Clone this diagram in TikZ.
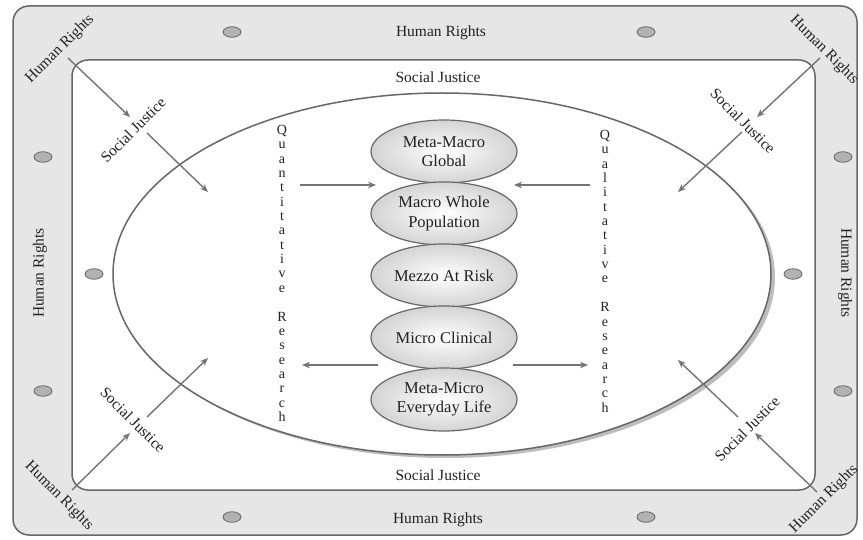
\documentclass[tikz,border=0pt]{standalone}
\usepackage{fontspec}
\setmainfont{Liberation Serif}
\usetikzlibrary{arrows.meta,shapes.geometric}
\definecolor{band}{HTML}{E6E6E7}
\definecolor{linec}{HTML}{676767}
\definecolor{arrc}{HTML}{747474}
\definecolor{dotc}{HTML}{B2B2B2}
\definecolor{txt}{HTML}{222222}
\begin{document}
\begin{tikzpicture}[x=1pt,y=-1pt,
  lbl/.style={font=\fontsize{15.5}{17}\selectfont, text=txt, inner sep=0pt},
  col/.style={font=\fontsize{14}{14.35}\selectfont, text=txt, inner sep=0pt, align=center, anchor=north},
  arr/.style={draw=arrc, line width=1.4pt, -{Stealth[length=8pt,width=6.5pt]}},
  dotm/.style={ellipse, draw=linec, fill=dotc, minimum width=18pt, minimum height=10.5pt, inner sep=0pt, line width=0.8pt},
  lvl/.style={ellipse, draw=linec, line width=1.2pt, inner color=white, outer color=black!17,
    minimum width=146pt, minimum height=63pt, align=center, font=\fontsize{16.5}{19.5}\selectfont, text=txt, inner sep=0pt}]
\useasboundingbox (0,0) rectangle (863,540);
% frame
\draw[fill=band, draw=linec, line width=1.5pt, rounded corners=16pt] (13,6) rectangle (857,535);
\draw[fill=white, draw=linec, line width=1.5pt, rounded corners=16pt] (72,60) rectangle (815,490);
% big ellipse with shadow
\fill[black!26] (446,277) ellipse [x radius=329pt, y radius=181pt];
\draw[fill=white, draw=linec, line width=1.5pt] (442,274) ellipse [x radius=329pt, y radius=181pt];
% dots
\foreach \n/\p in {d1/{(232,32)}, d2/{(646,32)}, d3/{(232,517)}, d4/{(646,517)},
  d5/{(43,157)}, d6/{(43,391)}, d7/{(843,157)}, d8/{(843,391)}, d9/{(94,274)}, d10/{(793,274)}}
  \node[dotm] (\n) at \p {};
% band labels
\node[lbl] (hrT) at (441,33) {Human Rights};
\node[lbl] (sjT) at (438,77) {Social Justice};
\node[lbl] (sjB) at (438,475) {Social Justice};
\node[lbl] (hrB) at (438,520) {Human Rights};
\node[lbl, rotate=90] (hrL) at (40,273) {Human Rights};
\node[lbl, rotate=-90] (hrR) at (845,273) {Human Rights};
% corner labels
\node[lbl, rotate=45] (hrTL) at (60,49) {Human Rights};
\node[lbl, rotate=-45] (hrTR) at (824,50) {Human Rights};
\node[lbl, rotate=-45] (hrBL) at (59,496) {Human Rights};
\node[lbl, rotate=45] (hrBR) at (824,499) {Human Rights};
\node[lbl, rotate=45] (sjTL) at (133,130) {Social Justice};
\node[lbl, rotate=-45] (sjTR) at (743,121) {Social Justice};
\node[lbl, rotate=-45] (sjBL) at (133,420) {Social Justice};
\node[lbl, rotate=45] (sjBR) at (747,429) {Social Justice};
% arrow coordinates
\coordinate (a1s) at (68,58);   \coordinate (a1e) at (130,117);
\coordinate (a2s) at (147,133); \coordinate (a2e) at (208,192);
\coordinate (b1s) at (820,58);  \coordinate (b1e) at (757,117);
\coordinate (b2s) at (742,132); \coordinate (b2e) at (678,192);
\coordinate (c1s) at (72,490);  \coordinate (c1e) at (130,433);
\coordinate (c2s) at (147,417); \coordinate (c2e) at (208,358);
\coordinate (e1s) at (817,492); \coordinate (e1e) at (755,433);
\coordinate (e2s) at (738,417); \coordinate (e2e) at (678,360);
\draw[arr] (a1s) -- (a1e); \draw[arr] (a2s) -- (a2e);
\draw[arr] (b1s) -- (b1e); \draw[arr] (b2s) -- (b2e);
\draw[arr] (c1s) -- (c1e); \draw[arr] (c2s) -- (c2e);
\draw[arr] (e1s) -- (e1e); \draw[arr] (e2s) -- (e2e);
% level ellipses
\node[lvl] (l1) at (444,151.5) {Meta-Macro\\Global};
\node[lvl] (l2) at (444,213.5) {Macro Whole\\Population};
\node[lvl] (l3) at (444,275.5) {Mezzo At Risk};
\node[lvl] (l4) at (444,337.5) {Micro Clinical};
\node[lvl] (l5) at (444,399.5) {Meta-Micro\\Everyday Life};
% research columns
\node[col] (quant) at (282,125) {Q\\u\\a\\n\\t\\i\\t\\a\\t\\i\\v\\e\\[14.35pt]R\\e\\s\\e\\a\\r\\c\\h};
\node[col] (qual) at (605,130) {Q\\u\\a\\l\\i\\t\\a\\t\\i\\v\\e\\[14.35pt]R\\e\\s\\e\\a\\r\\c\\h};
% horizontal arrows
\coordinate (h1s) at (300,185); \coordinate (h1e) at (376,185);
\coordinate (h2s) at (590,185); \coordinate (h2e) at (514,185);
\coordinate (h3s) at (378,365); \coordinate (h3e) at (302,365);
\coordinate (h4s) at (513,365); \coordinate (h4e) at (588,365);
\draw[arr] (h1s) -- (h1e); \draw[arr] (h2s) -- (h2e);
\draw[arr] (h3s) -- (h3e); \draw[arr] (h4s) -- (h4e);
\end{tikzpicture}
\end{document}
